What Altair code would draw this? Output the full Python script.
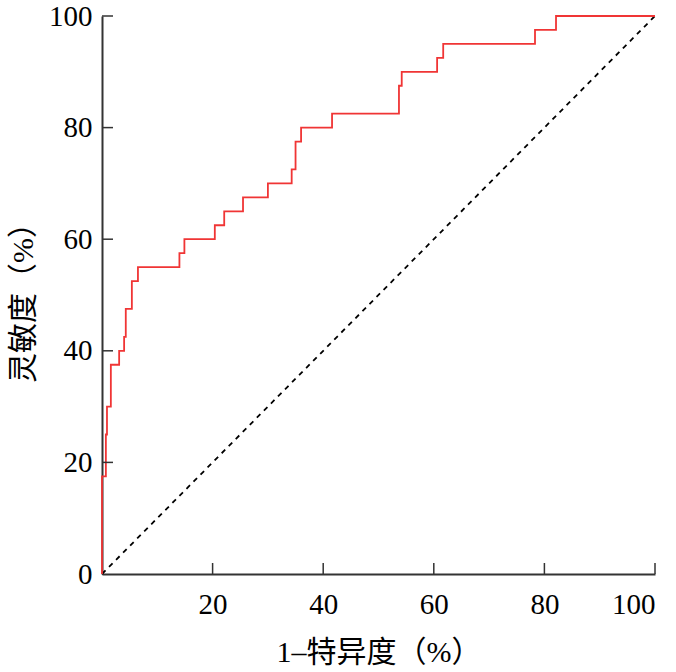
import altair as alt
import pandas as pd

# ROC step points (1-specificity %, sensitivity %)
fpr = [0, 0, 0.7, 0.9, 1.6, 3.1, 4.0, 4.3, 5.4, 6.5, 14.0, 14.9, 20.4, 22.1, 25.5,
       30.0, 34.3, 35.0, 36.0, 41.6, 53.7, 54.2, 60.6, 61.7, 78.3, 82.1, 100]
tpr = [0, 17.5, 25, 30, 37.5, 40, 42.5, 47.5, 52.5, 55, 57.5, 60, 62.5, 65, 67.5,
       70, 72.5, 77.5, 80, 82.5, 87.5, 90, 92.5, 95, 97.5, 100, 100]
diag = [0, 100]
ticks = [0, 20, 40, 60, 80, 100]

roc = pd.DataFrame({"x": fpr, "y": tpr})
ref = pd.DataFrame({"x": diag, "y": diag})
tick_df = pd.DataFrame({"t": ticks})

FONT = "'Liberation Serif', 'Noto Sans CJK SC', serif"
xs = alt.Scale(domain=[0, 100], nice=False, zero=False)
ys = alt.Scale(domain=[0, 100], nice=False, zero=False)

base_x = alt.X("x:Q", scale=xs,
               axis=alt.Axis(values=ticks, title="1–特异度（%）", grid=False, ticks=False,
                             labelExpr="datum.value == 0 ? '' : datum.label",
                             labelFontSize=29, labelFont=FONT, labelColor="black",
                             labelPadding=16, titleFontSize=30, titleFont=FONT,
                             titleFontWeight="normal", titleColor="black", titlePadding=18,
                             domainColor="#333333", domainWidth=2))
base_y = alt.Y("y:Q", scale=ys,
               axis=alt.Axis(values=ticks, title="灵敏度（%）", grid=False, ticks=False,
                             labelFontSize=29, labelFont=FONT, labelColor="black",
                             labelPadding=10, titleFontSize=30, titleFont=FONT,
                             titleFontWeight="normal", titleColor="black", titlePadding=10,
                             domainColor="#333333", domainWidth=2))

diag_line = alt.Chart(ref).mark_line(color="black", strokeDash=[5, 5], strokeWidth=1.8).encode(
    x=base_x, y=base_y)

roc_line = alt.Chart(roc).mark_line(color="#f03535", strokeWidth=1.8,
                                    interpolate="step-after").encode(
    x=alt.X("x:Q", scale=xs), y=alt.Y("y:Q", scale=ys), order=alt.Order("y:Q"))

xt = alt.Chart(tick_df[tick_df.t > 0]).mark_rule(color="#333333", strokeWidth=1.5).encode(
    x=alt.X("t:Q", scale=xs), y=alt.value(558), y2=alt.value(547))
yt = alt.Chart(tick_df[tick_df.t > 0]).mark_rule(color="#333333", strokeWidth=1.5).encode(
    y=alt.Y("t:Q", scale=ys), x=alt.value(0), x2=alt.value(11))

chart = alt.layer(diag_line, roc_line, xt, yt).properties(
    width=553, height=558,
    autosize=alt.AutoSizeParams(type="none"),
    padding={"left": 102, "top": 16, "right": 21, "bottom": 98},
).configure(background="white", view=alt.ViewConfig(stroke=None))

chart.save("out.html", embed_options={"renderer": "svg", "actions": False})
